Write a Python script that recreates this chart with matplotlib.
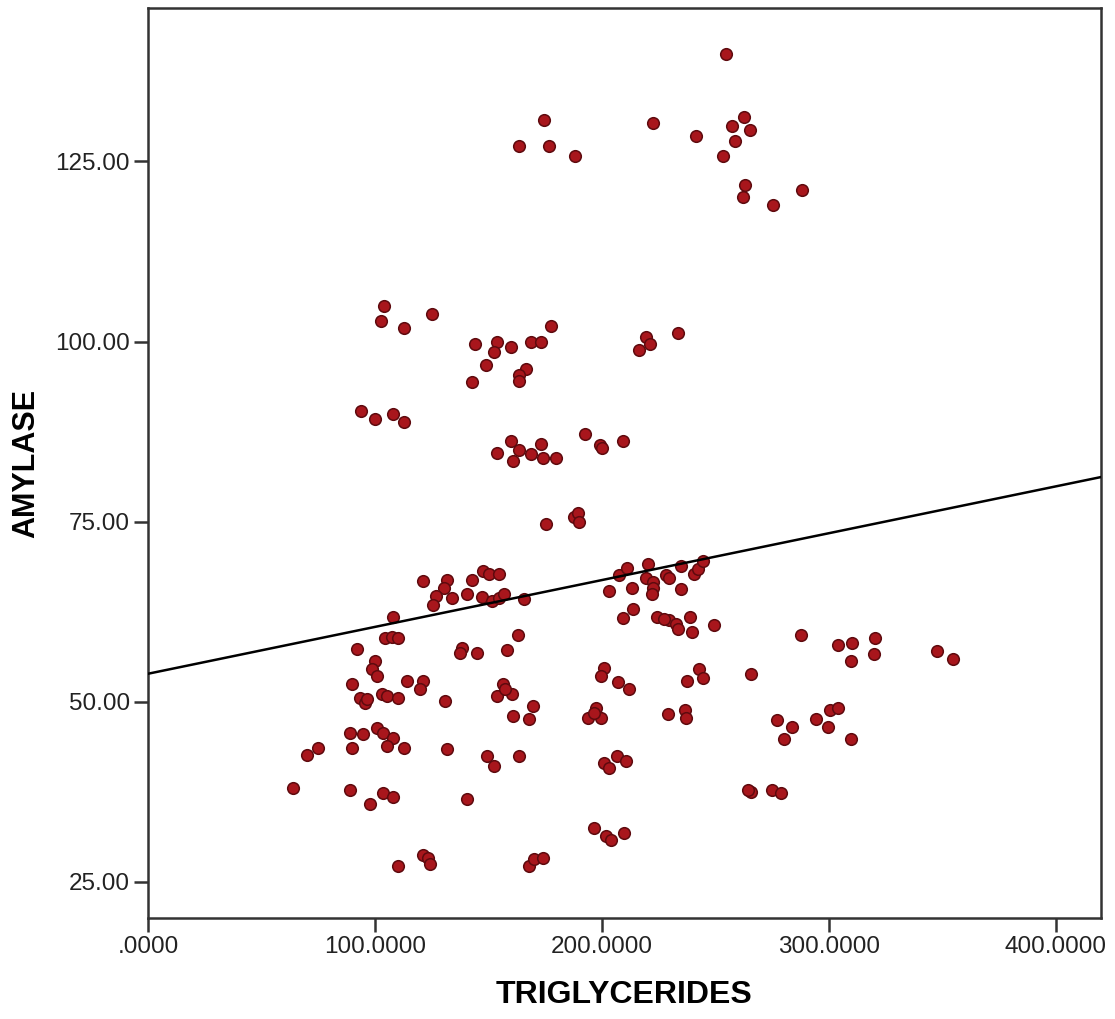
import matplotlib
matplotlib.use("Agg")
import matplotlib.pyplot as plt
import numpy as np

# ---- data ----
tg_top  = [254.8, 174.7, 163.7, 176.9, 188.4, 222.7, 241.6, 262.8, 257.4, 265.5, 258.8, 253.5, 263.2, 262.3, 275.5, 288.3]
am_top  = [139.9, 130.8, 127.2, 127.1, 125.8, 130.4, 128.6, 131.2, 129.9, 129.3, 127.9, 125.8, 121.8, 120.1, 118.9, 121.0]

tg_100 = [103.9, 102.6, 112.7, 125.0, 177.8, 143.9, 153.6, 152.7, 159.8, 169.0, 173.4, 148.8, 142.6, 166.4, 163.3, 163.3, 219.6, 221.4, 216.5, 233.7]
am_100 = [104.9, 102.8, 101.9, 103.8, 102.2, 99.6, 100.0, 98.6, 99.2, 99.9, 99.9, 96.8, 94.4, 96.2, 95.3, 94.6, 100.7, 99.7, 98.9, 101.2]

tg_88 = [93.8, 99.9, 107.8, 112.7, 159.8, 153.6, 160.7, 163.3, 169.0, 173.9, 179.6, 173.4, 192.8, 199.4, 200.0, 209.5]
am_88 = [90.3, 89.2, 90.0, 88.9, 86.2, 84.6, 83.4, 85.0, 84.4, 83.8, 83.9, 85.8, 87.2, 85.7, 85.2, 86.2]

tg_75 = [175.6, 187.9, 189.5, 190.0]
am_75 = [74.7, 75.6, 76.2, 75.0]

tg_mid_left = [121.0, 131.6, 130.3, 143.0, 147.5, 150.5, 154.9, 126.8, 125.4, 133.8, 140.8, 147.0, 151.4, 154.9, 157.1, 165.9, 107.8, 104.3, 107.5, 110.0, 162.9]
am_mid_left = [66.8, 66.9, 65.8, 66.9, 68.2, 67.8, 67.8, 64.7, 63.5, 64.4, 64.9, 64.6, 64.0, 64.4, 65.0, 64.3, 61.8, 58.9, 59.0, 58.9, 59.3]

tg_mid_right = [203.3, 207.7, 211.3, 220.5, 219.6, 222.4, 222.7, 222.3, 213.5, 228.4, 229.8, 235.0, 240.8, 242.5, 244.7, 235.0, 213.9, 209.5, 224.5, 229.8, 232.8, 233.7, 239.0, 239.9, 249.6, 227.5]
am_mid_right = [65.4, 67.6, 68.6, 69.2, 67.2, 66.7, 65.8, 65.0, 65.8, 67.6, 67.2, 68.8, 67.8, 68.5, 69.6, 65.7, 62.9, 61.7, 61.8, 61.4, 60.8, 60.1, 61.8, 59.7, 60.6, 61.5]

tg_low_right = [287.9, 304.1, 310.3, 309.9, 320.4, 320.0, 347.7, 354.8, 243.0, 244.7, 237.7, 265.8, 229.3, 236.8, 237.2, 277.3, 283.9, 280.4, 294.5, 299.7, 300.6, 304.1, 309.9, 265.8, 264.5, 275.1, 279.0]
am_low_right = [59.3, 57.9, 58.1, 55.7, 58.8, 56.7, 57.1, 56.0, 54.6, 53.3, 52.9, 53.8, 48.3, 48.9, 47.8, 47.5, 46.5, 44.9, 47.6, 46.5, 48.9, 49.2, 44.9, 37.5, 37.8, 37.8, 37.4]

tg_low_mid = [92.0, 99.9, 98.6, 100.8, 89.8, 114.0, 121.0, 119.7, 93.3, 95.5, 96.5, 103.0, 105.2, 110.0, 130.7, 138.6, 137.3, 144.8, 158.0,
              156.3, 154.0, 160.2, 157.5, 169.5, 160.7, 168.1, 201.1, 199.8, 207.3, 212.1, 197.6, 193.7, 199.8, 196.5]
am_low_mid = [57.4, 55.7, 54.6, 53.6, 52.5, 52.9, 52.9, 51.8, 50.6, 49.9, 50.4, 51.1, 50.8, 50.6, 50.1, 57.5, 56.8, 56.8, 57.2,
              52.5, 50.8, 51.1, 51.8, 49.4, 48.1, 47.6, 54.7, 53.6, 52.8, 51.8, 49.2, 47.8, 47.8, 48.4]

tg_low = [88.9, 94.6, 100.8, 103.4, 107.8, 105.2, 89.8, 112.7, 74.8, 70.0, 131.6, 149.2, 152.7, 163.7, 201.1, 203.3, 206.9, 210.8]
am_low = [45.7, 45.6, 46.4, 45.7, 45.0, 43.9, 43.6, 43.6, 43.6, 42.6, 43.5, 42.5, 41.1, 42.5, 41.5, 40.8, 42.5, 41.8]

tg_bottom = [63.8, 88.9, 97.7, 103.4, 107.8, 140.8, 196.7, 202.0, 204.2, 209.9, 110.0, 121.0, 123.2, 124.1, 167.7, 170.3, 173.9]
am_bottom = [38.1, 37.8, 35.8, 37.4, 36.8, 36.5, 32.5, 31.4, 30.8, 31.8, 27.2, 28.8, 28.3, 27.5, 27.2, 28.2, 28.3]

triglycerides = tg_top + tg_100 + tg_88 + tg_75 + tg_mid_left + tg_mid_right + tg_low_right + tg_low_mid + tg_low + tg_bottom
amylase = am_top + am_100 + am_88 + am_75 + am_mid_left + am_mid_right + am_low_right + am_low_mid + am_low + am_bottom

fit_intercept = 53.9
fit_slope = 0.065

x_ticks = [0, 100, 200, 300, 400]
x_tick_labels = [".0000", "100.0000", "200.0000", "300.0000", "400.0000"]
y_ticks = [25, 50, 75, 100, 125]
y_tick_labels = ["25.00", "50.00", "75.00", "100.00", "125.00"]

# ---- figure ----
W, H = 1115, 1019
fig = plt.figure(figsize=(W / 100, H / 100), dpi=100)
ax = fig.add_axes([148 / W, 1 - 918 / H, (1101 - 148) / W, (918 - 8) / H])

ax.set_xlim(0, 420)
ax.set_ylim(20, 146.3)

ax.scatter(triglycerides, amylase, s=70, facecolor="#A8161C", edgecolor="#5E0A0E",
           linewidths=1.1, zorder=3)

xl = np.array(ax.get_xlim())
ax.plot(xl, fit_intercept + fit_slope * xl, color="black", lw=1.8, zorder=4)

for sp in ax.spines.values():
    sp.set_color("#333333")
    sp.set_linewidth(1.8)

ax.set_xticks(x_ticks)
ax.set_xticklabels(x_tick_labels)
ax.set_yticks(y_ticks)
ax.set_yticklabels(y_tick_labels)
ax.tick_params(axis="both", direction="out", length=10, width=1.8, color="#333333",
               labelsize=17.5, labelcolor="#222222", pad=3.0)
for lab in ax.get_xticklabels() + ax.get_yticklabels():
    lab.set_family("Liberation Sans")
ax.tick_params(top=False, right=False)

ax.set_xlabel("TRIGLYCERIDES", fontsize=23, fontweight="bold", family="Liberation Sans", labelpad=16)
ax.set_ylabel("AMYLASE", fontsize=22, fontweight="bold", family="Liberation Sans", labelpad=10)

fig.savefig("out.png", dpi=100, facecolor="white")
